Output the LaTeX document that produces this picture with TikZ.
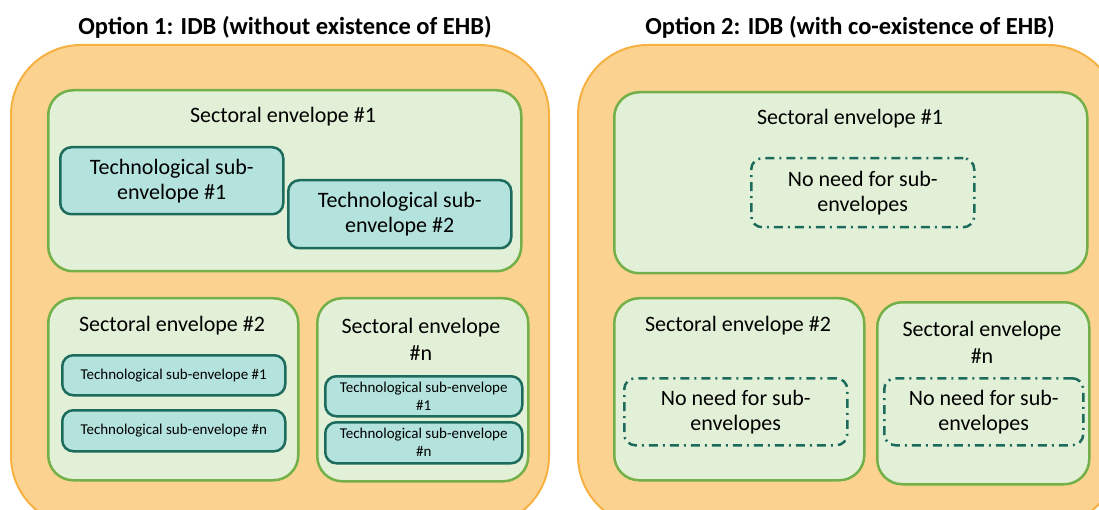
\documentclass[tikz,border=0pt]{standalone}
\usepackage{fontspec}
\setmainfont{Carlito}
\definecolor{orfill}{HTML}{FBD28F}
\definecolor{ordraw}{HTML}{F7B042}
\definecolor{grfill}{HTML}{E3F0D8}
\definecolor{grdraw}{HTML}{74B048}
\definecolor{tlfill}{HTML}{B4E2DD}
\definecolor{tldraw}{HTML}{1D6B5C}
\tikzset{
  outerbox/.style={draw=ordraw, fill=orfill, line width=2pt, rounded corners=70pt},
  sectorbox/.style={draw=grdraw, fill=grfill, line width=2.5pt, rounded corners=25pt},
  techbox/.style={draw=tldraw, fill=tlfill, line width=2.5pt, rounded corners=11pt,
    align=center, inner sep=0pt},
  nosub/.style={draw=tldraw, line width=2.5pt, rounded corners=11pt,
    dash pattern=on 9pt off 5pt on 2pt off 5pt, align=center, inner sep=0pt,
    font=\fontsize{22}{25}\selectfont},
  titletext/.style={font=\fontsize{24.5}{28}\selectfont\bfseries},
  sectortext/.style={font=\fontsize{22}{27}\selectfont, align=center},
  bigtech/.style={font=\fontsize{22}{25}\selectfont},
  smalltech/.style={font=\fontsize{15}{18}\selectfont},
}
% box spanning two corners given in pixel coordinates (y downwards)
\newcommand{\envbox}[6]{%
  \node[#1, anchor=north west, minimum width=#4pt-#2pt, minimum height=#5pt-#3pt]
    (#6) at (#2,#3) {};}
\begin{document}
\begin{tikzpicture}[x=1pt, y=-1pt]
\useasboundingbox (0,0) rectangle (1099,510);
\clip (0,0) rectangle (1099,510);

% ---------- Option 1 ----------
\node[titletext] (t1) at (285,27) {Option 1: IDB (without existence of EHB)};
\envbox{outerbox}{10}{44}{548}{525}{o1}

\envbox{sectorbox}{47}{89}{520}{270}{s11}
\node[sectortext] (s11l) at (283,117) {Sectoral envelope \#1};
\node[techbox, bigtech, anchor=north west, minimum width=223pt, minimum height=67pt]
  (t111) at (59,146) {Technological sub-\\envelope \#1};
\node[techbox, bigtech, anchor=north west, minimum width=223pt, minimum height=68pt]
  (t112) at (287,179) {Technological sub-\\envelope \#2};

\envbox{sectorbox}{47}{297}{297}{479}{s12}
\node[sectortext] (s12l) at (172,326) {Sectoral envelope \#2};
\node[techbox, smalltech, anchor=north west, minimum width=223pt, minimum height=40pt]
  (t121) at (61,354) {Technological sub-envelope \#1};
\node[techbox, smalltech, anchor=north west, minimum width=223pt, minimum height=41pt]
  (t12n) at (61,409) {Technological sub-envelope \#n};

\envbox{sectorbox}{316}{297}{527}{480}{s1n}
\node[sectortext] (s1nl) at (421,339) {Sectoral envelope\\\#n};
\node[techbox, smalltech, anchor=north west, minimum width=197pt, minimum height=40pt]
  (t1n1) at (324,375) {Technological sub-envelope\\\#1};
\node[techbox, smalltech, anchor=north west, minimum width=197pt, minimum height=41pt]
  (t1nn) at (324,421) {Technological sub-envelope\\\#n};

% ---------- Option 2 ----------
\node[titletext] (t2) at (850,27) {Option 2: IDB (with co-existence of EHB)};
\envbox{outerbox}{577}{44}{1117}{525}{o2}

\envbox{sectorbox}{613}{91}{1086}{272}{s21}
\node[sectortext] (s21l) at (850,119) {Sectoral envelope \#1};
\node[nosub, anchor=north west, minimum width=223pt, minimum height=69pt]
  (n21) at (750,157) {No need for sub-\\envelopes};

\envbox{sectorbox}{613}{297}{863}{479}{s22}
\node[sectortext] (s22l) at (738,326) {Sectoral envelope \#2};
\node[nosub, anchor=north west, minimum width=223pt, minimum height=67pt]
  (n22) at (623,377) {No need for sub-\\envelopes};

\envbox{sectorbox}{876}{301}{1088}{483}{s2n}
\node[sectortext] (s2nl) at (982,342) {Sectoral envelope\\\#n};
\node[nosub, anchor=north west, minimum width=199pt, minimum height=67pt]
  (n2n) at (883,377) {No need for sub-\\envelopes};
\end{tikzpicture}
\end{document}
